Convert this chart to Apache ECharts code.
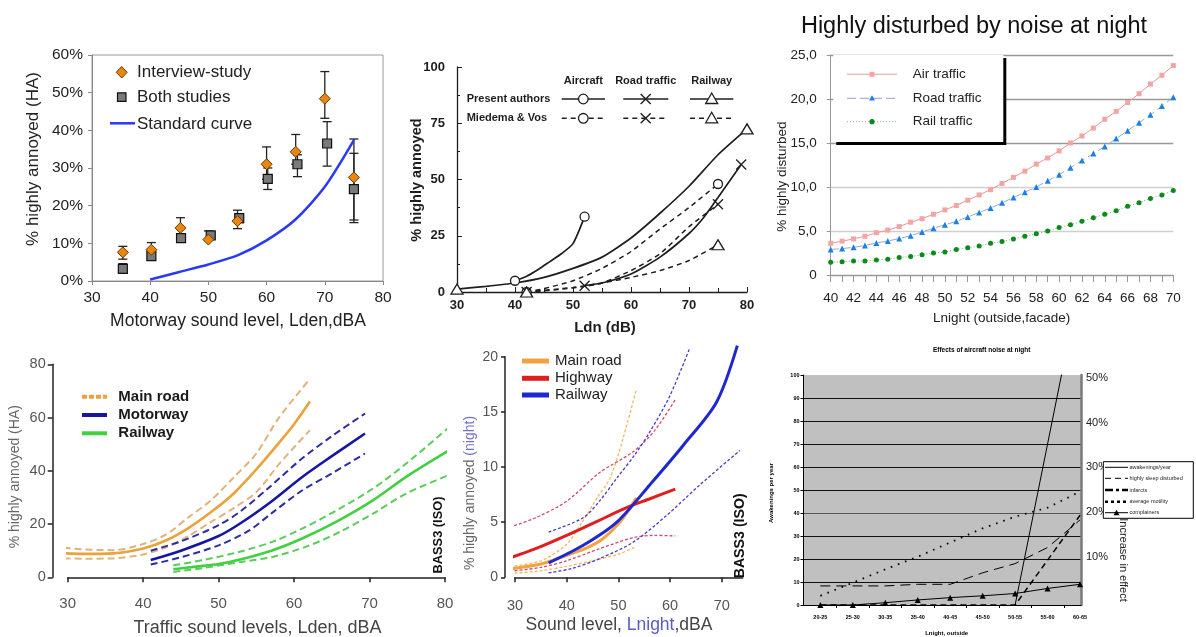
<!DOCTYPE html>
<html><head><meta charset="utf-8">
<script src="https://cdn.jsdelivr.net/npm/echarts@6/dist/echarts.min.js"></script>
<style>
html,body{margin:0;padding:0;background:#fff;width:1196px;height:637px;overflow:hidden}
.c{position:absolute;left:0;top:0;width:1196px;height:637px}
</style></head>
<body>
<div id="c1" class="c"></div><div id="c2" class="c"></div><div id="c3" class="c"></div>
<div id="c4" class="c"></div><div id="c5" class="c"></div><div id="c6" class="c"></div>
<script>
// ================= DATA =================
// Chart 1: Motorway study
const c1_xInt = [35.3,40.2,45.2,50,55,60,65,70,75];
const c1_yInt = [7.6,8.3,14.1,11,15.9,31,34.3,48.4,27.5];
const c1_loInt = [5.8,7.3,12,10.8,13.9,27,31,43.2,16.2];
const c1_hiInt = [9.2,10.2,16.8,13.3,18.8,35.6,38.9,55.6,37.7];
const c1_xBoth = [35.3,40.2,45.3,50.4,55.3,60.2,65.3,70.4,75];
const c1_yBoth = [3.2,6.6,11.4,12.1,16.7,27.1,31,36.5,24.4];
const c1_loBoth = [2.2,5.8,10.5,11.2,15.5,24.3,27.7,30.5,15.5];
const c1_hiBoth = [4.6,7.5,12.3,13,17.8,30,33.5,42.3,33.9];
const c1_xStd = [40,45,50,55,60,65,70,75];
const c1_yStd = [0.4,2.4,4.4,6.8,10.8,16.4,25,37.4];

// Chart 2: Ldn curves ([x, y] pairs)
const c2_airPA = [[40,5],[42,7],[44,10],[46,13.5],[48,17],[50,21.5],[52,33.5]];
const c2_roadPA = [[52,2.8],[55,4],[60,8],[65,15.5],[70,26],[72.5,33],[75,42],[79,56.7]];
const c2_railPA = [[30,1.3],[35,2.5],[40,4],[45,6.5],[50,10.5],[55,15.5],[60,24],[65,35],[70,47],[75,61],[80,72.5]];
const c2_airMV = [[42,0],[45,1.5],[50,5],[55,10.5],[60,18],[65,28],[70,37.5],[75,48]];
const c2_roadMV = [[42,0],[47,1],[52,2.5],[55,4],[60,9.5],[65,17],[70,29],[75,39]];
const c2_railMV = [[42,0],[50,2],[55,4],[60,6.5],[65,9.5],[70,14],[75,21]];

// Chart 3: Highly disturbed at night
const c3_x = [40,41,42,43,44,45,46,47,48,49,50,51,52,53,54,55,56,57,58,59,60,61,62,63,64,65,66,67,68,69,70];
const c3_air = [3.6,3.85,4.1,4.4,4.8,5.1,5.5,6.0,6.4,6.9,7.4,7.9,8.5,9.1,9.7,10.4,11.1,11.8,12.6,13.3,14.1,15.0,15.8,16.7,17.7,18.6,19.6,20.6,21.7,22.7,23.8];
const c3_road = [2.9,3.0,3.15,3.35,3.65,3.85,4.15,4.45,4.9,5.3,5.7,6.1,6.6,7.1,7.6,8.2,8.8,9.4,10.0,10.7,11.4,12.2,13.0,13.8,14.6,15.5,16.4,17.3,18.2,19.2,20.2];
const c3_rail = [1.45,1.5,1.6,1.6,1.7,1.8,2.0,2.1,2.3,2.5,2.6,2.9,3.1,3.3,3.6,3.8,4.1,4.4,4.7,5.0,5.4,5.7,6.1,6.5,6.9,7.3,7.8,8.2,8.7,9.1,9.6];

// Chart 4: Lden curves with CIs ([x, y] pairs)
const c4_main = [[28,9.2],[32,8.8],[36,9],[40,10.8],[43,13.8],[46,18.5],[49,24.5],[52,31.5],[55,40.5],[58,50.5],[60,57.5],[62.1,66]];
const c4_mainHi = [[28,11.5],[32,10.5],[36,10.2],[40,12.5],[43,16],[46,22.5],[49,29],[52,37.5],[55,46.5],[58,60],[62.1,74.5]];
const c4_mainLo = [[28,7.1],[32,7],[36,7.1],[40,8.6],[43,11.2],[46,15.5],[49,20.8],[52,26],[55,32],[58,42.5],[62.1,55.3]];
const c4_motor = [[41,6.5],[45,10],[50,15.5],[53,20.5],[57,28.5],[61,37.5],[65,45.5],[69.4,54]];
const c4_motorHi = [[41,10],[45,13.5],[50,19.6],[53,25],[57,34.5],[61,44.5],[65,53],[69.4,61.5]];
const c4_motorLo = [[41,4.8],[45,7.5],[50,12],[54,17.5],[57,24],[61,32.5],[65,39],[69.4,46.5]];
const c4_rail = [[44,3],[47,4],[50,5],[53,6.8],[57,10],[61,14.5],[66,21.5],[70.5,29],[75,38],[81,48.5]];
const c4_railHi = [[44,4.5],[48,6.5],[52.8,9.6],[57.2,13.4],[61.6,19],[66.1,25.9],[70.5,33.4],[74.9,42.8],[81,57.5]];
const c4_railLo = [[44,2],[48,3.5],[52.8,5.7],[57.2,7.7],[61.6,11.5],[66.1,17.1],[70.5,24],[74.9,31.5],[81,39]];

// Chart 5: Lnight curves with CIs ([x, y] pairs)
const c5_main = [[28,0.7],[35,1.2],[40,2],[44,2.7],[47,3.5],[50.3,5],[53.5,7.2]];
const c5_mainHi = [[28,0.9],[35,1.5],[40,3],[43,5],[46,7.3],[48.4,9],[50.9,12.6],[53.5,17.1]];
const c5_mainLo = [[28,0.3],[35,0.6],[40,1.0],[45,1.5],[50,2.1],[53.5,2.8]];
const c5_hwy = [[28,1.6],[34,2.6],[40,3.8],[46,5.1],[52,6.4],[56,7.1],[61,8.0]];
const c5_hwyHi = [[28,4.4],[34,5.4],[40,6.9],[46.4,9.5],[52.9,11.4],[57,13.3],[61,16.1]];
const c5_hwyLo = [[28,0.5],[35,0.9],[40,1.5],[46.4,2.6],[52.9,3.6],[57,3.8],[61,3.75]];
const c5_rail = [[36.5,1.3],[43.2,2.9],[49.7,5],[56.1,8.4],[62.6,12],[69,15.9],[73,21]];
const c5_railHi = [[36.5,4.1],[43.2,5.4],[46.5,7],[49.7,9],[53,11],[56.1,13.2],[60,16.5],[63.8,20.8]];
const c5_railLo = [[36.5,0.4],[41,0.8],[46.4,1.7],[52.9,3.2],[59.3,5.6],[65.8,8.4],[73.5,11.5]];
const c5_xTicks = [30,40,50,60,70];

// Chart 6: Effects of aircraft noise at night
const c6_cats = ['20-25','25-30','30-35','35-40','40-45','45-50','50-55','55-60','60-65'];
const c6_awak = [null,null,null,null,null,null,0,70,140];
const c6_sleep = [8.3,8.3,8.3,9,9,14,18,25,37];
const c6_infarct = [0,0,0,0,0,0,0,19.5,39];
const c6_motil = [4,9.7,15.5,21,27.2,33.3,38.4,42.3,49.3];
const c6_compl = [0,0,1,2.2,3.2,4,5,7.2,9];
const c6_rightTicks = [10,20,30,40,50];

// ================= HELPERS =================
const FF = 'Liberation Sans';
function zip(xs, ys){ return xs.map((x,i)=>[x, ys[i]]); }
function txt(x,y,text,font,fill,align,rot,extra){
  return Object.assign({type:'text', x:x, y:y, rotation:rot||0, z:100,
    style:{text:text, font:font, fill:fill, textAlign:align||'left', textVerticalAlign:'middle', align:align||'left', verticalAlign:'middle'}}, extra||{});
}
function hl(x1,x2,y,stroke,lw,dash){
  return {type:'line', z:100, shape:{x1:x1,y1:y,x2:x2,y2:y}, style:{stroke:stroke, lineWidth:lw, lineDash:dash||null}};
}
function init(id, opt){
  const ch = echarts.init(document.getElementById(id), null, {renderer:'canvas'});
  opt.animation = false;
  opt.textStyle = {fontFamily: FF};
  ch.setOption(opt);
}
function errSeries(xs, lo, hi){
  return {type:'custom', silent:true, z:1, data: xs.map((x,i)=>[x, lo[i], hi[i]]), encode:{x:0, y:[1,2]},
    renderItem:function(p, api){
      const a = api.coord([api.value(0), api.value(1)]), b = api.coord([api.value(0), api.value(2)]);
      const w = 4.5, st = {stroke:'#222', lineWidth:1.3};
      return {type:'group', children:[
        {type:'line', shape:{x1:a[0],y1:a[1],x2:b[0],y2:b[1]}, style:st},
        {type:'line', shape:{x1:a[0]-w,y1:a[1],x2:a[0]+w,y2:a[1]}, style:st},
        {type:'line', shape:{x1:b[0]-w,y1:b[1],x2:b[0]+w,y2:b[1]}, style:st}]};
    }};
}
function curve(data, color, width, dash){
  return {type:'line', data:data, symbol:'none', smooth:0.3, clip:false, silent:true,
    lineStyle:{color:color, width:width, type: dash||'solid'}, itemStyle:{color:color}};
}
function ends(a){ return [a[0], a[a.length-1]]; }
const XPATH = 'path://M0,0L10,10M10,0L0,10';

// ================= CHART 1 =================
init('c1', {
  grid:{left:92, top:55, width:291, height:226, show:true, borderColor:'#9a9a9a', borderWidth:1},
  xAxis:{type:'value', min:30, max:80, interval:10,
    axisLine:{lineStyle:{color:'#888'}}, axisTick:{show:true, length:4, lineStyle:{color:'#888'}},
    axisLabel:{color:'#222', fontSize:15.5, margin:9}, splitLine:{show:false}},
  yAxis:{type:'value', min:0, max:60, interval:10,
    axisLine:{show:true, lineStyle:{color:'#888'}}, axisTick:{show:true, length:4, lineStyle:{color:'#888'}},
    axisLabel:{formatter:'{value}%', color:'#222', fontSize:15.5, margin:9}, splitLine:{show:false}},
  series:[
    errSeries(c1_xInt, c1_loInt, c1_hiInt),
    errSeries(c1_xBoth, c1_loBoth, c1_hiBoth),
    {type:'line', data:zip(c1_xStd, c1_yStd), symbol:'none', smooth:0.25, z:2, lineStyle:{color:'#2a3af2', width:2.5}},
    {type:'scatter', data:zip(c1_xBoth, c1_yBoth), symbol:'rect', symbolSize:9, z:3,
      itemStyle:{color:'#7a7a7a', borderColor:'#111', borderWidth:1.2, opacity:1}},
    {type:'scatter', data:zip(c1_xInt, c1_yInt), symbol:'diamond', symbolSize:[11,11], z:4,
      itemStyle:{color:'#e8860f', borderColor:'#6a3800', borderWidth:1, opacity:1}}
  ],
  graphic:[
    {type:'polygon', z:100, shape:{points:[[121.7,66.5],[127.2,72.3],[121.7,78],[116.2,72.3]]}, style:{fill:'#e8860f', stroke:'#6a3800', lineWidth:1}},
    {type:'rect', z:100, shape:{x:117.5, y:92.8, width:8.5, height:8.5}, style:{fill:'#7a7a7a', stroke:'#111', lineWidth:1.2}},
    hl(110,135,123.3,'#2a3af2',2.5),
    txt(137,72.3,'Interview-study','17px '+FF,'#222'),
    txt(137,97.3,'Both studies','17px '+FF,'#222'),
    txt(137,124,'Standard curve','17px '+FF,'#222'),
    txt(238,321,'Motorway sound level, Lden,dBA','17.5px '+FF,'#222','center'),
    txt(33,159,'% highly annoyed (HA)','17px '+FF,'#222','center',Math.PI/2)
  ]
});

// ================= CHART 2 =================
(function(){
  const K = '#1e1e1e';
  const solid = (d)=>({type:'line', data:d, symbol:'none', smooth:0.2, silent:true, lineStyle:{color:K, width:1.7}});
  const dashed = (d)=>({type:'line', data:d, symbol:'none', smooth:0.2, silent:true, lineStyle:{color:K, width:1.5, type:[5,4]}});
  const mk = (d, sym, size)=>({type:'scatter', data:ends(d), symbol:sym, symbolSize:size, z:5, silent:true,
     itemStyle:{color: sym===XPATH?'rgba(0,0,0,0)':'#fff', borderColor:K, borderWidth:1.3, opacity:1}});
  const B = 'bold 11px '+FF;
  const g = [
    txt(583.3,81,'Aircraft',B,K,'center'),
    txt(645.7,81,'Road traffic',B,K,'center'),
    txt(711.7,81,'Railway',B,K,'center'),
    txt(466.7,99,'Present authors',B,K),
    txt(466.7,118.3,'Miedema & Vos',B,K)
  ];
  const rows = [[99,null],[118.3,[5,4]]];
  rows.forEach(function(r){
    const y = r[0], d = r[1];
    g.push(hl(561.7,605,y,K,1.5,d), hl(623.3,668.3,y,K,1.5,d), hl(690,733.3,y,K,1.5,d));
    g.push({type:'circle', z:101, shape:{cx:583.3, cy:y, r:4.8}, style:{fill:'#fff', stroke:K, lineWidth:1.3}});
    g.push({type:'line', z:101, shape:{x1:640.7,y1:y-5,x2:650.7,y2:y+5}, style:{stroke:K, lineWidth:1.4}});
    g.push({type:'line', z:101, shape:{x1:640.7,y1:y+5,x2:650.7,y2:y-5}, style:{stroke:K, lineWidth:1.4}});
    g.push({type:'polygon', z:101, shape:{points:[[711.7,y-6],[717.7,y+4.5],[705.7,y+4.5]]}, style:{fill:'#fff', stroke:K, lineWidth:1.3}});
  });
  g.push(txt(605,328,'Ldn (dB)','bold 15px '+FF,K,'center'));
  g.push(txt(417,180,'% highly annoyed','bold 14.5px '+FF,K,'center',Math.PI/2));
  init('c2', {
    grid:{left:457, top:67, width:290, height:225},
    xAxis:{type:'value', min:30, max:80, interval:10,
      axisLine:{lineStyle:{color:K, width:1.3}}, axisTick:{show:true, inside:true, length:5, lineStyle:{color:K}},
      minorTick:{show:true, splitNumber:2, length:4, lineStyle:{color:K}},
      axisLabel:{color:K, fontSize:13, fontWeight:'bold', margin:7}, splitLine:{show:false}, minorSplitLine:{show:false}},
    yAxis:{type:'value', min:0, max:100, interval:25,
      axisLine:{show:true, lineStyle:{color:K, width:1.3}}, axisTick:{show:true, inside:true, length:5, lineStyle:{color:K}},
      minorTick:{show:true, splitNumber:2, length:3, lineStyle:{color:K}},
      axisLabel:{color:K, fontSize:13, fontWeight:'bold', margin:12}, splitLine:{show:false}, minorSplitLine:{show:false}},
    series:[
      solid(c2_airPA), solid(c2_roadPA), solid(c2_railPA),
      dashed(c2_airMV), dashed(c2_roadMV), dashed(c2_railMV),
      mk(c2_airPA,'circle',9), mk(c2_airMV,'circle',9),
      mk(c2_roadPA,XPATH,10), mk(c2_roadMV,XPATH,10),
      mk(c2_railPA,'triangle',[12,10]), mk(c2_railMV,'triangle',[12,10])
    ],
    graphic:g
  });
})();

// ================= CHART 3 =================
(function(){
  const F = '13.5px '+FF;
  const g = [
    txt(974,26.7,'Highly disturbed by noise at night','23.5px '+FF,'#111','center'),
    {type:'rect', z:99, shape:{x:836.3, y:58, width:170, height:87}, style:{fill:'#000'}},
    {type:'rect', z:100, shape:{x:833.3, y:55, width:170, height:87}, style:{fill:'#fff'}},
    hl(847,897,74.3,'#e8a0a0',1),
    {type:'rect', z:101, shape:{x:869.5, y:71.8, width:5, height:5}, style:{fill:'#f5a3a3'}},
    hl(847,897,98.3,'#a8b4d4',1.2,[9,4]),
    {type:'polygon', z:101, shape:{points:[[872,95.3],[875,100.5],[869,100.5]]}, style:{fill:'#1a80e6'}},
    hl(847,897,121.7,'#80b880',1,[1,2]),
    {type:'circle', z:101, shape:{cx:872, cy:121.7, r:2.6}, style:{fill:'#0a8a1a'}},
    txt(912.7,74.3,'Air traffic',F,'#222'),
    txt(912.7,98.3,'Road traffic',F,'#222'),
    txt(912.7,121.7,'Rail traffic',F,'#222'),
    txt(1001.7,318,'Lnight (outside,facade)',F,'#222','center'),
    txt(782,176.7,'% highly disturbed',F,'#222','center',Math.PI/2)
  ];
  init('c3', {
    grid:{left:830.7, top:55, width:342.6, height:220},
    xAxis:{type:'value', min:40, max:70, interval:2,
      axisLine:{lineStyle:{color:'#999'}}, axisTick:{show:true, length:7, lineStyle:{color:'#999'}},
      minorTick:{show:true, splitNumber:2, length:7, lineStyle:{color:'#999'}},
      axisLabel:{color:'#222', fontSize:13.5, margin:16}, splitLine:{show:false}, minorSplitLine:{show:false}},
    yAxis:{type:'value', min:0, max:25, interval:5,
      axisLine:{show:true, lineStyle:{color:'#999'}}, axisTick:{show:true, length:4, lineStyle:{color:'#999'}},
      axisLabel:{color:'#222', fontSize:13.5, margin:14,
        formatter:function(v){ return v===0 ? '0' : v.toFixed(1).replace('.', ','); }},
      splitLine:{show:true, lineStyle:{color:['#999','#d0d0d0','#d0d0d0','#999','#999','#999'], width:1.3}}},
    series:[
      {type:'line', data:zip(c3_x,c3_air), symbol:'rect', symbolSize:5, silent:true,
        lineStyle:{color:'#e09a9a', width:1}, itemStyle:{color:'#f5a3a3'}},
      {type:'line', data:zip(c3_x,c3_road), symbol:'triangle', symbolSize:6, silent:true,
        lineStyle:{color:'#9aa8cc', width:1, type:[8,4]}, itemStyle:{color:'#1a80e6'}},
      {type:'line', data:zip(c3_x,c3_rail), symbol:'circle', symbolSize:5, silent:true,
        lineStyle:{color:'#70b070', width:1, type:[1,2]}, itemStyle:{color:'#0a8a1a'}}
    ],
    graphic:g
  });
})();

// ================= CHART 4 =================
(function(){
  const OR='#eaa23a', ORD='#e2b27c', NV='#1616a2', NVD='#2c2ca6', GR='#40d040', GRD='#5acc5a';
  const B = 'bold 15px '+FF;
  init('c4', {
    grid:{left:67.7, top:364.3, width:377.3, height:213},
    xAxis:{type:'value', min:30, max:80, interval:10, offset:8,
      axisLine:{lineStyle:{color:'#222', width:1.5}}, axisTick:{show:true, length:5, lineStyle:{color:'#222', width:1.5}},
      axisLabel:{color:'#555', fontSize:15, margin:11}, splitLine:{show:false}},
    yAxis:{type:'value', min:0, max:80, interval:20, offset:15,
      axisLine:{show:true, lineStyle:{color:'#222', width:1.5}}, axisTick:{show:true, length:5, lineStyle:{color:'#222', width:1.5}},
      axisLabel:{color:'#555', fontSize:14.5, margin:7}, splitLine:{show:false}},
    series:[
      curve(c4_mainHi, ORD, 2, [7,4]), curve(c4_mainLo, ORD, 2, [7,4]), curve(c4_main, OR, 2.6),
      curve(c4_motorHi, NVD, 2, [7,4]), curve(c4_motorLo, NVD, 2, [7,4]), curve(c4_motor, NV, 2.6),
      curve(c4_railHi, GRD, 2, [7,4]), curve(c4_railLo, GRD, 2, [7,4]), curve(c4_rail, GR, 2.6)
    ],
    graphic:[
      hl(82,107,396.7,OR,4,[5,2]), hl(82,107,415,NV,4), hl(82,107,433.3,GR,4),
      txt(118.3,396.7,'Main road',B,'#1a1a1a'),
      txt(118.3,415,'Motorway',B,'#1a1a1a'),
      txt(118.3,433.3,'Railway',B,'#1a1a1a'),
      txt(257.5,628,'Traffic sound levels, Lden, dBA','18px '+FF,'#444','center'),
      txt(15,476.7,'% highly annoyed (HA)','14px '+FF,'#666','center',Math.PI/2),
      txt(438.3,535,'BASS3 (ISO)','bold 12.8px '+FF,'#111','center',Math.PI/2)
    ]
  });
})();

// ================= CHART 5 =================
(function(){
  const OR='#f4a240', ORD='#f0b860', RD='#e01e1e', RDD='#d04a6a', BL='#1e28d0', BLD='#4a3cc0';
  const F = '15px '+FF;
  init('c5', {
    grid:{left:515, top:356.7, width:227.5, height:220.6},
    xAxis:{type:'value', min:30, max:74,
      axisLine:{lineStyle:{color:'#222', width:1.5}},
      axisTick:{show:true, length:5, customValues:c5_xTicks, lineStyle:{color:'#222', width:1.5}},
      axisLabel:{color:'#555', fontSize:14.5, margin:11, customValues:c5_xTicks}, splitLine:{show:false}, offset:10},
    yAxis:{type:'value', min:0, max:20, interval:5, offset:10,
      axisLine:{show:true, lineStyle:{color:'#222', width:1.5}}, axisTick:{show:true, length:4, lineStyle:{color:'#222', width:1.5}},
      axisLabel:{color:'#555', fontSize:14, margin:7}, splitLine:{show:false}},
    series:[
      curve(c5_mainHi, ORD, 1.3, [3,2]), curve(c5_mainLo, ORD, 1.3, [3,2]),
      curve(c5_hwyHi, RDD, 1.3, [3,2]), curve(c5_hwyLo, RDD, 1.3, [3,2]),
      curve(c5_railHi, BLD, 1.3, [3,2]), curve(c5_railLo, BLD, 1.3, [3,2]),
      curve(c5_main, OR, 3), curve(c5_hwy, RD, 3), curve(c5_rail, BL, 3)
    ],
    graphic:[
      hl(522,549,361,OR,5), hl(522,549,378.3,RD,5), hl(522,549,395,BL,5),
      txt(555,361,'Main road',F,'#222'),
      txt(555,378.3,'Highway',F,'#222'),
      txt(555,395,'Railway',F,'#222'),
      {type:'text', x:619, y:625, z:100, style:{text:'{a|Sound level, }{b|Lnight}{a|,dBA}', textAlign:'center', align:'center', textVerticalAlign:'middle', verticalAlign:'middle',
        rich:{a:{fill:'#444', color:'#444', fontSize:17.5, fontFamily:FF}, b:{fill:'#5a5ac8', color:'#5a5ac8', fontSize:17.5, fontFamily:FF}}}},
      {type:'text', x:470, y:493, z:100, rotation:Math.PI/2, style:{text:'{a|% highly annoyed }{b|(night)}', textAlign:'center', align:'center', textVerticalAlign:'middle', verticalAlign:'middle',
        rich:{a:{fill:'#666', color:'#666', fontSize:14, fontFamily:FF}, b:{fill:'#7070d0', color:'#7070d0', fontSize:14, fontFamily:FF}}}},
      txt(740,535.8,'BASS3 (ISO)','bold 14.2px '+FF,'#111','center',Math.PI/2)
    ]
  });
})();

// ================= CHART 6 =================
(function(){
  const idx = c6_cats.map((c,i)=>i);
  const K = '#000';
  const S = '5.5px '+FF;
  const lgY = [467.3, 478.3, 490, 501.7, 512.7];
  init('c6', {
    grid:{left:803.5, top:375, width:277.5, height:230, show:true, backgroundColor:'#c0c0c0', borderWidth:0},
    xAxis:{type:'value', min:-0.52, max:8.03,
      axisLine:{onZero:false, lineStyle:{color:K}},
      axisTick:{show:true, length:3, customValues:[0.5,1.5,2.5,3.5,4.5,5.5,6.5,7.5], lineStyle:{color:K}},
      axisLabel:{customValues:idx, formatter:function(v){ return c6_cats[Math.round(v)]; }, fontSize:5.5, fontWeight:'bold', color:K, margin:9},
      splitLine:{show:false}},
    yAxis:[
      {type:'value', min:0, max:100, interval:10,
        axisLine:{show:true, onZero:false, lineStyle:{color:K}}, axisTick:{show:true, length:3, lineStyle:{color:K}},
        axisLabel:{fontSize:5.5, fontWeight:'bold', color:K, margin:4},
        splitLine:{show:true, lineStyle:{color:['#000','#111','#111','#111','#555','#111','#111','#111','#111','#111','rgba(0,0,0,0)'], width:1}}},
      {type:'value', position:'right', min:-0.78, max:50.67,
        axisLine:{show:true, onZero:false, lineStyle:{color:'#7a7a7a', width:2.5}}, axisTick:{show:false},
        axisLabel:{customValues:c6_rightTicks, formatter:'{value}%', fontSize:11, color:'#222', margin:5},
        splitLine:{show:false}}
    ],
    series:[
      {type:'line', data:zip(idx,c6_awak), symbol:'none', silent:true, lineStyle:{color:K, width:1}},
      {type:'line', data:zip(idx,c6_sleep), symbol:'none', silent:true, lineStyle:{color:K, width:1, type:[10,6]}},
      {type:'line', data:zip(idx,c6_infarct), symbol:'none', silent:true, lineStyle:{color:K, width:1.5, type:[6,4]}},
      {type:'line', data:zip(idx,c6_motil), symbol:'none', silent:true, lineStyle:{color:K, width:1.8, type:[1.6,6]}},
      {type:'line', data:zip(idx,c6_compl), symbol:'triangle', symbolSize:6, silent:true, lineStyle:{color:K, width:1}, itemStyle:{color:K}}
    ],
    graphic:[
      txt(981.7,350,'Effects of aircraft noise at night','bold 6.5px '+FF,K,'center'),
      txt(946.7,633,'Lnight, outside','bold 6px '+FF,K,'center'),
      txt(771.7,493,'Awakenings per year','bold 6px '+FF,K,'center',Math.PI/2),
      txt(1123,560,'Increase in effect','11px '+FF,'#222','center',-Math.PI/2),
      {type:'rect', z:99, shape:{x:1103.3, y:461.7, width:90, height:56.6}, style:{fill:'#fff', stroke:K, lineWidth:1}},
      hl(1105,1128,lgY[0],K,1),
      hl(1105,1128,lgY[1],K,1,[6,4]),
      hl(1105,1128,lgY[2],K,2.5,[8,3,3,3]),
      hl(1105,1128,lgY[3],K,2.5,[3,3]),
      hl(1105,1128,lgY[4],K,1),
      {type:'polygon', z:101, shape:{points:[[1116.5,lgY[4]-3],[1119.5,lgY[4]+2.5],[1113.5,lgY[4]+2.5]]}, style:{fill:K}},
      txt(1129.5,lgY[0],'awakenings/year',S,'#222'),
      txt(1129.5,lgY[1],'highly sleep disturbed',S,'#222'),
      txt(1129.5,lgY[2],'infarcts',S,'#222'),
      txt(1129.5,lgY[3],'average motility',S,'#222'),
      txt(1129.5,lgY[4],'complainers',S,'#222')
    ]
  });
})();
</script>
</body></html>
